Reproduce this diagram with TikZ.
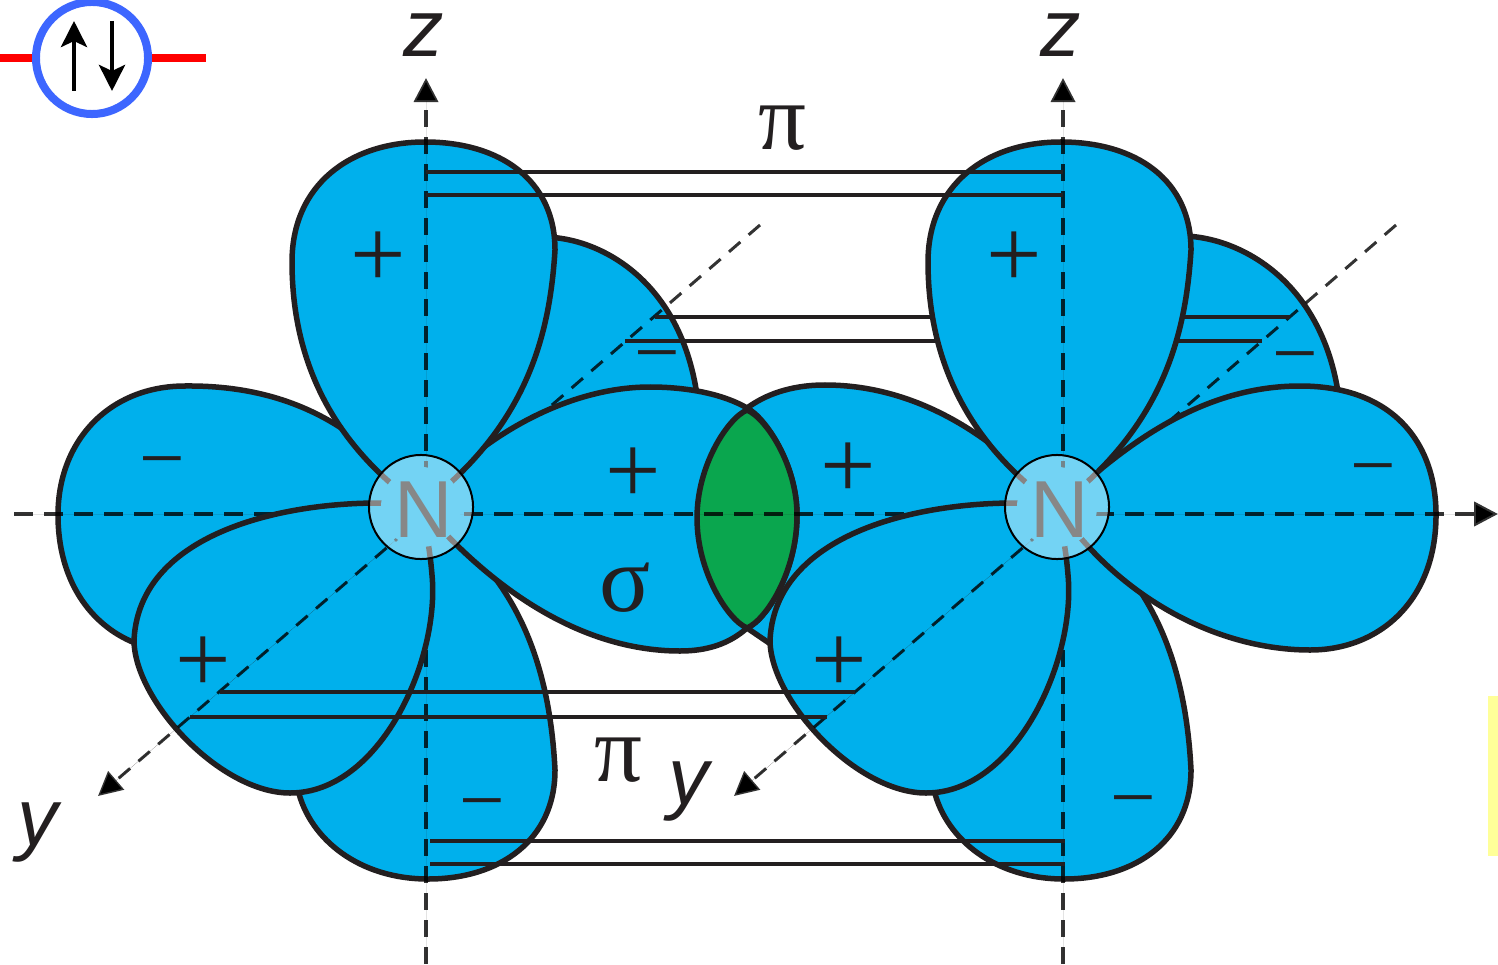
\documentclass[tikz,border=0pt]{standalone}
\usepackage{fontspec}
\setmainfont{Liberation Sans}
\newfontfamily\grk{Liberation Serif}
\usetikzlibrary{arrows.meta}
\definecolor{lobeblue}{HTML}{00B0EC}
\definecolor{lensgreen}{HTML}{0AA64E}
\definecolor{inkdark}{HTML}{231F20}
\definecolor{orbblue}{HTML}{3D66FF}
\definecolor{stripyel}{HTML}{FFFF99}
\tikzset{
  lobe/.style={draw=inkdark,fill=lobeblue,line width=.55mm,line join=round},
  lens/.style={draw=inkdark,fill=lensgreen,line width=.55mm,line join=round},
  axs/.style={draw=black,draw opacity=.8,line width=.36mm,dash pattern=on 1.7mm off 1mm},
  axh/.style={draw=black,draw opacity=.8,line width=.42mm,dash pattern=on 1.9mm off 1.1mm},
  axd/.style={draw=black,draw opacity=.8,line width=.3mm,dash pattern=on 1.5mm off 1.1mm},
  axt/.style={-{Triangle[length=2.4mm,width=2.4mm]},fill=inkdark,fill opacity=1},
  bnd/.style={draw=inkdark,line width=.32mm},
  nucl/.style={circle,fill=lobeblue,minimum size=8mm,inner sep=0pt},
  veil/.style={circle,draw=black,line width=.2mm,fill=white,fill opacity=.45,draw opacity=1,minimum size=10.4mm,inner sep=0pt},
  atm/.style={text=black!47,font=\fontsize{23}{23}\selectfont,inner sep=0pt},
  axl/.style={text=inkdark,font=\fontsize{23}{23}\itshape\selectfont,inner sep=0pt},
  sgn/.style={text=inkdark,font=\fontsize{28}{28}\grk\selectfont,inner sep=0pt},
  mns/.style={text=inkdark,font=\fontsize{23}{23}\grk\selectfont,inner sep=0pt},
  grl/.style={text=inkdark,font=\fontsize{27}{27}\grk\selectfont,inner sep=0pt},
  orb/.style={circle,draw=orbblue,fill=white,line width=.8mm,minimum size=11.2mm,inner sep=0pt},
  lnk/.style={draw=red,line width=.8mm},
  spn/.style={-{Stealth[length=2.6mm,width=2.6mm,inset=.6mm]},draw=black,line width=.45mm},
}
\begin{document}
\begin{tikzpicture}[x=.01cm,y=-.01cm]
\path[use as bounding box] (0,0) rectangle (1498,964);
% axis ends and bond ends
\coordinate (oa) at (426,514); \coordinate (ob) at (1062,514);
\coordinate (ya) at (760,225); \coordinate (yb) at (1396,225);
\coordinate (yc) at (98,796); \coordinate (yd) at (734,796);
\coordinate (xa) at (14,514); \coordinate (xb) at (1498,514);
\coordinate (za) at (426,78); \coordinate (zb) at (1063,78);
\coordinate (zc) at (426,964); \coordinate (zd) at (1063,964);
% the lobes at the back, with their axis and bonds
\draw[lobe] (421,507) -- (545,237) .. controls (600,238) and (680,280) .. (697,395) -- cycle;
\draw[lobe] (1057,507) -- (1185,236) .. controls (1240,238) and (1320,280) .. (1338,392) -- cycle;
\draw[axs,axd] (ya) -- (oa); \draw[axs,axd] (yb) -- (ob);
\coordinate (pa) at (655,317); \coordinate (pb) at (1290,317);
\coordinate (pc) at (625,341); \coordinate (pd) at (1262,341);
\draw[bnd] (pa) -- (pb) (pc) -- (pd);
% lower lobes
\draw[lobe] (421,507) .. controls (495,560) and (548,630) .. (555,770) .. controls (555,840) and (500,879) .. (428,879) .. controls (360,879) and (310,840) .. (298,790) -- cycle;
\draw[lobe] (1057,507) .. controls (1131,560) and (1184,630) .. (1191,770) .. controls (1191,840) and (1136,879) .. (1064,879) .. controls (996,879) and (946,840) .. (934,790) -- cycle;
% the side lobes and their overlap
\draw[lobe] (421,507) .. controls (360,420) and (280,385) .. (185,386) .. controls (110,386) and (58,440) .. (58,515) .. controls (58,580) and (90,625) .. (135,643) -- cycle;
\draw[lobe] (1057,507) .. controls (1000,440) and (920,385) .. (825,385) .. controls (790,385) and (765,395) .. (747,408) .. controls (728,418) and (697,465) .. (697,518) .. controls (697,572) and (728,620) .. (747,628) -- (772,645) -- cycle;
\draw[lobe] (421,507) .. controls (470,445) and (560,387) .. (650,387) .. controls (690,387) and (725,395) .. (747,408) .. controls (766,418) and (797,465) .. (797,515) .. controls (797,572) and (766,620) .. (747,628) .. controls (728,645) and (705,651) .. (680,651) .. controls (600,651) and (510,610) .. cycle;
\draw[lobe] (1057,507) .. controls (1110,460) and (1190,386) .. (1300,386) .. controls (1390,386) and (1436,440) .. (1436,515) .. controls (1436,600) and (1380,650) .. (1310,650) .. controls (1220,650) and (1120,600) .. cycle;
\draw[lens] (747,410) .. controls (728,418) and (697,465) .. (697,518) .. controls (697,572) and (728,620) .. (747,628) .. controls (766,620) and (797,572) .. (797,515) .. controls (797,465) and (766,418) .. cycle;
% upper lobes
\draw[lobe] (421,507) .. controls (340,450) and (292,370) .. (292,262) .. controls (292,185) and (350,142) .. (425,142) .. controls (500,142) and (555,180) .. (555,250) .. controls (550,330) and (530,425) .. cycle;
\draw[lobe] (1057,507) .. controls (976,450) and (928,370) .. (928,262) .. controls (928,185) and (986,142) .. (1061,142) .. controls (1136,142) and (1191,180) .. (1191,250) .. controls (1186,330) and (1166,425) .. cycle;
% the axes in the plane of the page
\draw[axh,axt] (xa) -- (xb);
\draw[axs,axt] (zc) -- (za); \draw[axs,axt] (zd) -- (zb);
% lobes towards the viewer
\draw[lobe] (421,505) .. controls (320,495) and (140,520) .. (134,640) .. controls (134,700) and (220,793) .. (290,793) .. controls (380,793) and (440,660) .. (432,575) .. controls (430,550) and (426,530) .. cycle;
\draw[lobe] (1057,505) .. controls (956,495) and (776,520) .. (770,640) .. controls (770,700) and (856,793) .. (926,793) .. controls (1016,793) and (1076,660) .. (1068,575) .. controls (1066,550) and (1062,530) .. cycle;
\draw[axd,axt] (oa) -- (yc);
\draw[axd,axt] (ob) -- (yd);
% the pi bonds
\coordinate (ta) at (426,172); \coordinate (tb) at (1063,172);
\coordinate (tc) at (426,195); \coordinate (td) at (1063,195);
\draw[bnd] (ta) -- (tb) (tc) -- (td);
\coordinate (fa) at (220,692); \coordinate (fb) at (855,692);
\coordinate (fc) at (190,717); \coordinate (fd) at (827,717);
\draw[bnd] (fa) -- (fb) (fc) -- (fd);
\coordinate (ba) at (430,841); \coordinate (bb) at (1065,841);
\coordinate (bc) at (430,864); \coordinate (bd) at (1065,864);
\draw[bnd] (ba) -- (bb) (bc) -- (bd);
% the two nuclei
\node[nucl] (ca) at (421,507) {}; \node[nucl] (cb) at (1057,507) {};
\node[veil] (na) at (421,507) {}; \node[veil] (nb) at (1057,507) {};
\node[atm] (la) at (424,510) {N}; \node[atm] (lb) at (1060,510) {N};
% signs
\node[sgn] (s1) at (378,260) {+}; \node[sgn] (s2) at (1014,260) {+};
\node[sgn] (s3) at (633,476) {+}; \node[sgn] (s4) at (848,471) {+};
\node[sgn] (s5) at (203,665) {+}; \node[sgn] (s6) at (839,665) {+};
\node[mns] (m1) at (162,471) {−}; \node[mns] (m2) at (657,365) {−};
\node[mns] (m3) at (1373,478) {−}; \node[mns] (m4) at (1295,366) {−};
\node[mns] (m5) at (482,813) {−}; \node[mns] (m6) at (1133,810) {−};
% axis names and bond names
\node[axl] (z1) at (424,35) {z}; \node[axl] (z2) at (1061,35) {z};
\node[axl] (y1) at (38,833) {y}; \node[axl] (y2) at (689,792) {y};
\node[grl] (p1) at (782,128) {π}; \node[grl] (p2) at (618,760) {π};
\node[grl] (sg) at (625,588) {σ};
% the electron pair
\coordinate (ra) at (0,58); \coordinate (rb) at (206,58);
\node[orb] (pr) at (92,58) {};
\draw[lnk] (ra) -- (pr.west) (pr.east) -- (rb);
\coordinate (ua) at (74,91); \coordinate (ub) at (74,21);
\coordinate (da) at (112,21); \coordinate (db) at (112,91);
\draw[spn] (ua) -- (ub); \draw[spn] (da) -- (db);
% strip at the edge
\fill[stripyel] (1488,696) rectangle (1498,856);
\end{tikzpicture}
\end{document}
